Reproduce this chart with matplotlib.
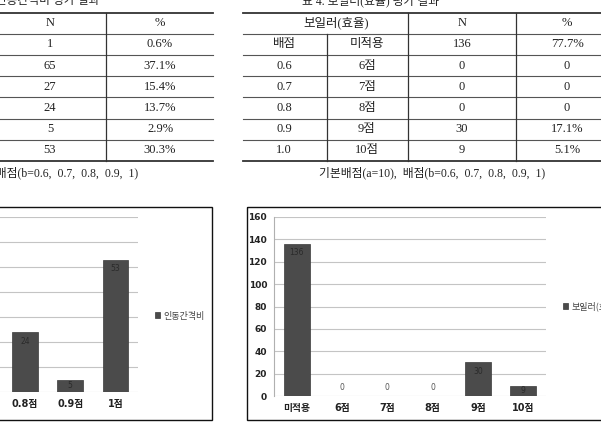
import numpy as np
import matplotlib
matplotlib.use("Agg")
import matplotlib.pyplot as plt
from matplotlib.patches import Rectangle

plt.rcParams['font.family'] = ['Liberation Serif', 'Noto Sans CJK KR', 'DejaVu Sans']

# --- data (read from the scanned page) ---
left_cats = ["미적용", "0.6점", "0.7점", "0.8점", "0.9점", "1점"]
left_n = [1, 65, 27, 24, 5, 53]
left_pct = ["0.6%", "37.1%", "15.4%", "13.7%", "2.9%", "30.3%"]
left_series = "인동간격비"

right_b = ["배점", "0.6", "0.7", "0.8", "0.9", "1.0"]
right_cats = ["미적용", "6점", "7점", "8점", "9점", "10점"]
right_n = [136, 0, 0, 0, 30, 9]
right_pct = ["77.7%", "0", "0", "0", "17.1%", "5.1%"]
right_series = "보일러(효율)"

note = "기본배점(a=10),  배점(b=0.6,  0.7,  0.8,  0.9,  1)"

W, H = 601, 425
fig = plt.figure(figsize=(W / 100, H / 100), dpi=100)
fig.patch.set_facecolor("white")

# overlay axes in pixel coordinates for the table part of the page
ov = fig.add_axes([0, 0, 1, 1])
ov.set_xlim(0, W)
ov.set_ylim(H, 0)
ov.axis("off")


def px_axes(x0, y0, x1, y1):
    return fig.add_axes([x0 / W, 1 - y1 / H, (x1 - x0) / W, (y1 - y0) / H])


TXT = "#222222"
tfont = dict(fontsize=9, color=TXT, ha="center", va="center")

# --- table rows ---
top, rh = 12.5, 21.2
rows_y = [top + rh * (i + 0.5) for i in range(7)]

# left table (first column cut off by the page edge)
ov.text(50, rows_y[0], "N", **tfont)
ov.text(160, rows_y[0], "%", **tfont)
for i in range(6):
    ov.text(50, rows_y[i + 1], str(left_n[i]), **tfont)
    ov.text(160, rows_y[i + 1], left_pct[i], **tfont)
for i in range(8):
    y = top + rh * i
    lw = 1.3 if i in (0, 7) else 0.8
    ov.plot([0, 213], [y, y], color="#333333" if i in (0, 7) else "#555555", lw=lw)
ov.plot([106, 106], [top, top + rh * 7], color="#333333", lw=0.9)
ov.text(138, 173, note, fontsize=8.5, color=TXT, ha="right", va="center")

# right table
ov.text(336, rows_y[0], right_series, **tfont)
ov.text(462, rows_y[0], "N", **tfont)
ov.text(567, rows_y[0], "%", **tfont)
for i in range(6):
    ov.text(284, rows_y[i + 1], right_b[i], **tfont)
    ov.text(367, rows_y[i + 1], right_cats[i], **tfont)
    ov.text(462, rows_y[i + 1], str(right_n[i]), **tfont)
    ov.text(567, rows_y[i + 1], right_pct[i], **tfont)
for i in range(8):
    y = top + rh * i
    lw = 1.3 if i in (0, 7) else 0.8
    ov.plot([243, W], [y, y], color="#333333" if i in (0, 7) else "#555555", lw=lw)
ov.plot([327, 327], [top + rh, top + rh * 7], color="#333333", lw=0.9)
for x in (408, 516):
    ov.plot([x, x], [top, top + rh * 7], color="#333333", lw=0.9)
ov.text(432, 173, note, fontsize=8.5, color=TXT, ha="center", va="center")

# table captions, mostly cut by the top edge
ov.text(-30, 4, "표 3. 인동간격비 평가 결과", fontsize=8.5, color=TXT, ha="left", va="baseline")
ov.text(302, 4, "표 4. 보일러(효율) 평가 결과", fontsize=8.5, color=TXT, ha="left", va="baseline")

# chart frames
ov.add_patch(Rectangle((-10, 207), 222, 213, fill=False, ec="#111111", lw=1.0))
ov.add_patch(Rectangle((247, 207), 380, 213, fill=False, ec="#111111", lw=1.0))

BAR = "#4b4b4b"


def bar_chart(ax, cats, vals, ymax, step, label):
    x = np.arange(len(cats))
    bars = ax.bar(x, vals, width=0.57, color=BAR, edgecolor="#3a3a3a", lw=0.5,
                  label=label, zorder=3)
    ax.set_xlim(-0.5, len(cats) - 0.5)
    ax.set_ylim(0, ymax)
    ax.set_yticks(np.arange(0, ymax + 1, step))
    ax.yaxis.grid(True, color="#c4c4c4", lw=0.8, zorder=0)
    ax.set_facecolor("none")
    for s in ("top", "right", "bottom"):
        ax.spines[s].set_visible(False)
    ax.spines["left"].set_color("#b0b0b0")
    ax.spines["left"].set_linewidth(0.8)
    ax.tick_params(length=0, pad=5)
    ax.set_xticks(x)
    ax.set_xticklabels(cats, fontsize=7, fontweight="bold", color=TXT,
                       family=["DejaVu Sans", "Noto Sans CJK KR"])
    for t in ax.get_yticklabels():
        t.set_fontsize(6.5)
        t.set_fontweight("bold")
        t.set_color(TXT)
        t.set_family("DejaVu Sans")
    # pixel height per unit for label placement
    bbox = ax.get_position()
    ppu = bbox.height * H / ymax
    for i, v in enumerate(vals):
        if v == 0:
            ax.annotate(str(v), (i, 0), xytext=(0, 8), textcoords="offset pixels",
                        ha="center", va="center", fontsize=5.5, color="#555555",
                        family="DejaVu Sans")
        elif v * ppu < 20:
            ax.annotate(str(v), (i, v / 2), ha="center", va="center", fontsize=5.5,
                        color="#2a2a2a", family="DejaVu Sans", zorder=4)
        else:
            ax.annotate(str(v), (i, v), xytext=(0, -9), textcoords="offset pixels",
                        ha="center", va="center", fontsize=5.5, color="#2a2a2a",
                        family="DejaVu Sans", zorder=4)
    return bars


axl = px_axes(-133, 217, 138, 392)
bar_chart(axl, left_cats, left_n, 70, 10, left_series)
axl.legend(loc="center left", bbox_to_anchor=(150 / W, 1 - 316 / H),
           bbox_transform=fig.transFigure, frameon=False, handlelength=0.6,
           handleheight=0.6, handletextpad=0.4, borderpad=0,
           prop={"family": "Noto Sans CJK KR", "size": 6.5}, labelcolor="#444444")

axr = px_axes(274, 217, 546, 396)
bar_chart(axr, right_cats, right_n, 160, 20, right_series)
axr.legend(loc="center left", bbox_to_anchor=(558 / W, 1 - 306 / H),
           bbox_transform=fig.transFigure, frameon=False, handlelength=0.6,
           handleheight=0.6, handletextpad=0.4, borderpad=0,
           prop={"family": "Noto Sans CJK KR", "size": 6.5}, labelcolor="#444444")

fig.savefig("out.png", dpi=100)
